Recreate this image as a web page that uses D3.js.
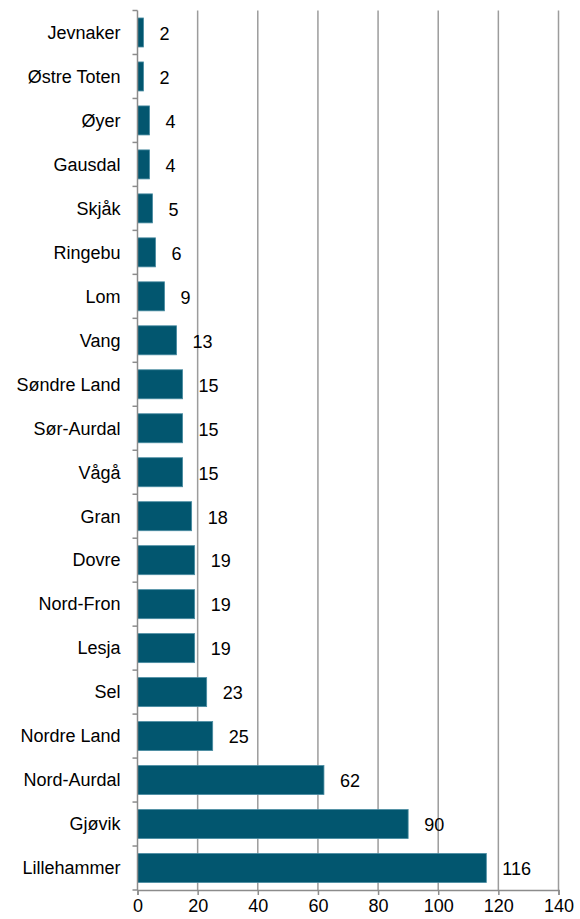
<!DOCTYPE html>
<html>
<head>
<meta charset="utf-8">
<script src="https://cdn.jsdelivr.net/npm/d3@7"></script>
<style>
  html, body { margin: 0; padding: 0; background: #fff; }
  svg text { font-family: "Liberation Sans", Arial, sans-serif; fill: #000; }
</style>
</head>
<body>
<svg id="chart" width="580" height="919"></svg>
<script>
// Kommuner (fra topp til bunn) og verdier
var kommuner = ["Jevnaker", "Østre Toten", "Øyer", "Gausdal", "Skjåk", "Ringebu", "Lom", "Vang",
  "Søndre Land", "Sør-Aurdal", "Vågå", "Gran", "Dovre", "Nord-Fron", "Lesja", "Sel",
  "Nordre Land", "Nord-Aurdal", "Gjøvik", "Lillehammer"];
var verdier = [2, 2, 4, 4, 5, 6, 9, 13, 15, 15, 15, 18, 19, 19, 19, 23, 25, 62, 90, 116];
var xTicks = [0, 20, 40, 60, 80, 100, 120, 140];

var data = kommuner.map(function (k, i) { return { navn: k, verdi: verdier[i] }; });

// Marger
var margin = { top: 10.5, right: 21.5, bottom: 29, left: 137.5 },
  width = 580 - margin.left - margin.right,
  height = 919 - margin.top - margin.bottom;

var svg = d3.select("#chart")
  .append("g")
  .attr("transform", "translate(" + margin.left + "," + margin.top + ")");

// Skalaer
var x = d3.scaleLinear().domain([0, 140]).range([0, width]);
var y = d3.scaleBand().domain(kommuner).range([0, height]).paddingInner(0.34).paddingOuter(0.17);

// Rutenett
svg.append("g")
  .selectAll("line")
  .data(xTicks.slice(1))
  .enter()
  .append("line")
  .attr("x1", function (d) { return x(d); })
  .attr("x2", function (d) { return x(d); })
  .attr("y1", 0)
  .attr("y2", height)
  .style("stroke", "#9c9c9c")
  .style("stroke-width", 1.5);

// Stolper
svg.selectAll(".bar")
  .data(data)
  .enter()
  .append("rect")
  .attr("class", "bar")
  .attr("x", x(0))
  .attr("y", function (d) { return y(d.navn); })
  .attr("width", function (d) { return x(d.verdi) - x(0); })
  .attr("height", y.bandwidth())
  .style("fill", "#02566f")
  .style("stroke", "#4a8ca2")
  .style("stroke-width", 0.8);

// Verdietiketter
svg.selectAll(".verdi")
  .data(data)
  .enter()
  .append("text")
  .attr("class", "verdi")
  .attr("x", function (d) { return x(d.verdi) + 16; })
  .attr("y", function (d) { return y(d.navn) + y.bandwidth() / 2 + 1; })
  .attr("dy", "0.35em")
  .style("font-size", "18px")
  .text(function (d) { return d.verdi; });

// Y-akse (kategorier) med streker mellom kategoriene
var yAxis = svg.append("g").attr("class", "y axis");
yAxis.append("line")
  .attr("x1", 0).attr("x2", 0)
  .attr("y1", 0).attr("y2", height)
  .style("stroke", "#8c8c8c").style("stroke-width", 1.5);
var step = height / kommuner.length;
yAxis.selectAll(".ytick")
  .data(d3.range(kommuner.length + 1))
  .enter()
  .append("line")
  .attr("x1", -5).attr("x2", 0)
  .attr("y1", function (d) { return d * step; })
  .attr("y2", function (d) { return d * step; })
  .style("stroke", "#8c8c8c").style("stroke-width", 1.5);
yAxis.selectAll(".ylabel")
  .data(kommuner)
  .enter()
  .append("text")
  .attr("x", -17)
  .attr("y", function (d) { return y(d) + y.bandwidth() / 2; })
  .attr("dy", "0.35em")
  .style("text-anchor", "end")
  .style("font-size", "18px")
  .text(function (d) { return d; });

// X-akse
var xAxis = d3.axisBottom(x).tickValues(xTicks).tickSize(5).tickPadding(4);
var gx = svg.append("g")
  .attr("class", "x axis")
  .attr("transform", "translate(0," + height + ")")
  .call(xAxis);
gx.select(".domain").style("stroke", "#8c8c8c").style("stroke-width", 1.5);
gx.selectAll(".tick line").style("stroke", "#8c8c8c").style("stroke-width", 1.5);
gx.selectAll(".tick text")
  .style("font-size", "18px")
  .style("font-family", "'Liberation Sans', Arial, sans-serif")
  .style("fill", "#000");
</script>
</body>
</html>
